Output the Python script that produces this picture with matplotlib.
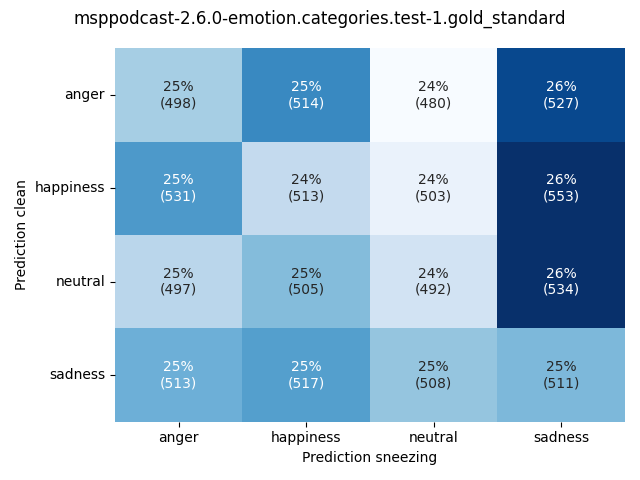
import numpy as np
import matplotlib
matplotlib.use("Agg")
import matplotlib.pyplot as plt
import seaborn as sns

labels = ["anger", "happiness", "neutral", "sadness"]
counts = np.array([
    [498, 514, 480, 527],
    [531, 513, 503, 553],
    [497, 505, 492, 534],
    [513, 517, 508, 511],
])
title = "msppodcast-2.6.0-emotion.categories.test-1.gold_standard"

percent = counts / counts.sum(axis=1, keepdims=True) * 100
annot = np.array([
    [f"{p:.0f}%\n({c})" for p, c in zip(prow, crow)]
    for prow, crow in zip(percent, counts)
])

fig, ax = plt.subplots(figsize=(6.4, 4.8), dpi=100)
sns.heatmap(
    percent,
    annot=annot,
    fmt="",
    cmap="Blues",
    cbar=False,
    xticklabels=labels,
    yticklabels=labels,
    ax=ax,
)
ax.set_yticklabels(labels, rotation=0)
ax.set_xlabel("Prediction sneezing")
ax.set_ylabel("Prediction clean")
fig.suptitle(title)
plt.tight_layout()
plt.savefig("out.png")
